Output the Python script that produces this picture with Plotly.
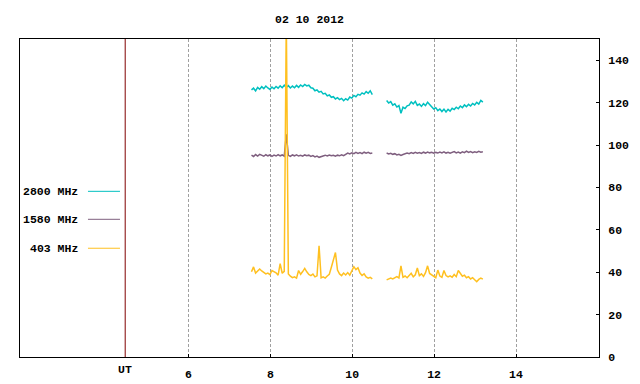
import numpy as np
import plotly.graph_objects as go

# ---- data ----
title_text = "02 10 2012"
ut_hour = 4.456
ut_label = "UT"
x_range = [1.887, 16.026]
x_tickvals = [6, 8, 10, 12, 14]
x_ticktext = ["6", "8", "10", "12", "14"]
y_tickvals = [0, 20, 40, 60, 80, 100, 120, 140]

seg1_start = 7.54
seg2_start = 10.84
step_h = 0.05

f2800_seg1 = [126.0, 126.8, 125.5, 127.2, 126.3, 127.5, 126.6, 127.8, 126.9, 126.2,
              127.3, 126.5, 127.6, 126.8, 127.9, 127.0, 128.2, 127.1, 128.0, 126.9,
              127.8, 127.0, 128.1, 127.2, 128.3, 127.6, 128.6, 127.9, 128.2, 127.0,
              126.8, 125.6, 126.0, 124.9, 125.3, 124.1, 124.4, 123.2, 123.6, 122.5,
              122.8, 121.7, 122.3, 121.4, 122.0, 120.9, 121.8, 121.2, 122.6, 122.1,
              123.4, 122.8, 123.9, 123.5, 124.6, 124.0, 125.2, 124.4, 125.6, 123.8]
f2800_seg2 = [121.0, 119.8, 120.5, 118.8, 119.4, 117.9, 118.6, 115.0, 117.8, 117.2,
              118.5, 118.8, 120.3, 119.4, 120.6, 118.7, 119.3, 118.2, 119.5, 118.6,
              120.2, 119.0, 118.1, 117.0, 117.6, 116.2, 117.0, 115.8, 116.9, 115.6,
              116.8, 116.0, 117.3, 116.7, 117.8, 117.1, 118.4, 117.6, 118.9, 118.1,
              119.2, 118.4, 119.6, 118.9, 120.1, 119.3, 121.0, 120.2]

f1580_seg1 = [95.2, 94.6, 95.5, 94.8, 95.6, 95.0, 94.7, 95.4, 94.9, 95.3,
              94.6, 95.2, 94.8, 95.5, 94.9, 95.3, 94.7, 105.0, 95.1, 94.6,
              95.3, 94.9, 95.4, 94.8, 95.1, 94.7, 95.3, 94.9, 95.2, 94.6,
              95.0, 94.4, 94.8, 94.2, 94.6, 94.9, 95.2, 94.8, 95.3, 94.9,
              95.1, 94.7, 95.2, 94.9, 95.4, 95.0, 95.6, 96.2, 95.8, 96.3,
              95.9, 96.5, 96.0, 96.4, 95.9, 96.6, 96.1, 96.5, 96.0, 96.2]
f1580_seg2 = [96.2, 95.8, 96.1, 95.6, 95.9, 95.3, 95.6, 95.1, 95.5, 95.8,
              96.2, 95.9, 96.4, 96.0, 96.5, 96.1, 96.4, 96.0, 96.6, 96.2,
              96.7, 96.3, 96.6, 96.1, 96.5, 96.2, 96.7, 96.3, 96.8, 96.2,
              96.6, 96.1, 96.5, 96.9, 96.3, 96.7, 96.2, 96.8, 96.4, 97.1,
              96.5, 96.9, 96.4, 96.8, 96.5, 97.0, 96.6, 96.8]

f403_seg1 = [40.2, 42.5, 39.6, 40.8, 41.5, 40.6, 39.8, 39.2, 39.6, 38.9,
             40.8, 40.2, 39.7, 38.6, 44.0, 39.5, 40.4, 160.0, 39.2, 38.1,
             37.4, 37.8, 37.2, 40.8, 39.0, 40.3, 41.8, 40.2, 38.9, 38.4,
             39.1, 37.8, 38.3, 52.5, 37.3, 37.8, 37.2, 38.2, 39.0, 42.3,
             45.6, 49.3, 41.0, 39.2, 38.4, 39.6, 38.7, 39.8, 38.6, 40.5,
             42.6, 41.2, 42.1, 39.6, 38.5, 39.2, 37.8, 37.2, 37.6, 36.9]
f403_seg2 = [36.4, 37.0, 37.2, 36.8, 37.5, 37.9, 37.3, 43.0, 37.6, 38.2,
             37.4, 38.6, 39.5, 37.8, 38.8, 42.0, 38.4, 39.2, 38.0, 39.8,
             43.0, 39.4, 38.6, 37.9, 37.4, 41.0, 38.2, 37.6, 40.8, 38.4,
             37.8, 38.3, 37.6, 38.9, 37.9, 40.8, 39.2, 38.1, 38.6, 37.4,
             37.9, 36.8, 37.4, 36.2, 35.5, 36.6, 37.2, 36.7]

series_names = ["2800 MHz", "1580 MHz", "403 MHz"]
series_colors = ["#00C0C0", "#7F5F7F", "#FFC020"]
series_data = [(f2800_seg1, f2800_seg2), (f1580_seg1, f1580_seg2), (f403_seg1, f403_seg2)]

FONT = dict(family="Liberation Mono, DejaVu Sans Mono, monospace", size=11.5, color="black", weight="bold")


def build(seg1, seg2):
    t1 = list(np.round(seg1_start + step_h * np.arange(len(seg1)), 3))
    t2 = list(np.round(seg2_start + step_h * np.arange(len(seg2)), 3))
    return t1 + [None] + t2, list(seg1) + [None] + list(seg2)


fig = go.Figure()
for name, color, (s1, s2) in zip(series_names, series_colors, series_data):
    xs, ys = build(s1, s2)
    fig.add_trace(go.Scatter(x=xs, y=ys, mode="lines", name=name,
                             line=dict(color=color, width=1.5), connectgaps=False,
                             showlegend=False, hoverinfo="skip"))

# UT marker line and label
fig.add_shape(type="line", xref="x", yref="paper", x0=ut_hour, x1=ut_hour, y0=0, y1=1,
              line=dict(color="#800000", width=1))
fig.add_annotation(xref="x", yref="paper", x=ut_hour, y=-12 / 318, text=ut_label,
                   showarrow=False, xanchor="center", yanchor="middle", font=FONT)

# left-side key (gnuplot style)
key_rows_y = [0.521, 0.433, 0.342]
for name, color, ky in zip(series_names, series_colors, key_rows_y):
    fig.add_annotation(xref="paper", yref="paper", x=0.1036, y=ky, text=name,
                       showarrow=False, xanchor="right", yanchor="middle", font=FONT)
    fig.add_shape(type="line", xref="paper", yref="paper", x0=0.1174, x1=0.1727,
                  y0=ky, y1=ky, line=dict(color=color, width=1))

fig.update_layout(
    width=640, height=384,
    margin=dict(l=20, r=41, t=39, b=27, autoexpand=False),
    paper_bgcolor="white", plot_bgcolor="white",
    font=FONT,
    title=dict(text=title_text, x=0.5, xref="paper", y=1 - 19 / 384, yanchor="middle",
               xanchor="center", font=FONT),
    showlegend=False,
)
fig.update_xaxes(range=x_range, tickmode="array", tickvals=x_tickvals, ticktext=x_ticktext,
                 showline=True, mirror=True, linecolor="black", linewidth=1,
                 ticks="inside", ticklen=3, tickcolor="black",
                 showgrid=True, gridcolor="#A0A0A0", griddash="3px,2px", gridwidth=1,
                 zeroline=False, ticklabelstandoff=6, tickfont=FONT, automargin=False)
fig.update_yaxes(range=[0, 150], side="right", tickmode="array", tickvals=y_tickvals,
                 showline=True, mirror=True, linecolor="black", linewidth=1,
                 ticks="inside", ticklen=3, tickcolor="black",
                 showgrid=False, zeroline=False, ticklabelstandoff=6, tickfont=FONT,
                 automargin=False)

fig.write_html("out.html", config={"displayModeBar": False},
               post_script="document.body.style.margin='0';")
